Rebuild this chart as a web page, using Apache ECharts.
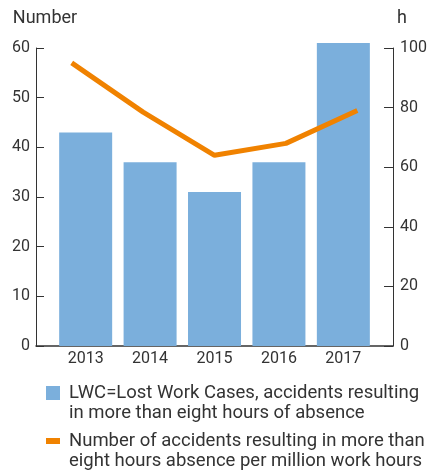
<!DOCTYPE html>
<html>
<head>
<meta charset="utf-8">
<script src="https://cdn.jsdelivr.net/npm/echarts@6/dist/echarts.min.js"></script>
<style>
  html, body { margin: 0; padding: 0; background: #fff; }
  #chart { width: 430px; height: 470px; }
</style>
</head>
<body>
<div id="chart"></div>
<script>
// data
var years = [2013, 2014, 2015, 2016, 2017]
var yearLabels = ['2013', '2014', '2015', '2016', '2017']
var lwcCases = [43, 37, 31, 37, 61]
var accidentsPerMillion = [95, 78.5, 64, 68, 79]
var leftTicks = { min: 0, max: 60, interval: 10 }
var rightTicks = { min: 0, max: 100, interval: 20 }

var barName = 'LWC=Lost Work Cases, accidents resulting\nin more than eight hours of absence'
var lineName = 'Number of accidents resulting in more than\neight hours absence per million work hours'

var textColor = '#333'
var blue = '#7bafdc'
var orange = '#f08200'
var font = 'Roboto'

var chart = echarts.init(document.getElementById('chart'), null, { renderer: 'canvas' })

// legend text is centred on the icon, so an empty first line puts the
// first real line level with the icon
function legendLabel(name) {
  return '\n' + name.split('\n').map(function (l) { return '{t|' + l + '}' }).join('\n')
}

var legendText = {
  color: textColor,
  fontFamily: font,
  fontSize: 18.5,
  lineHeight: 20,
  rich: {
    t: { color: textColor, fontFamily: font, fontSize: 18.5, lineHeight: 20, padding: [0, 0, 0, 4] }
  }
}

var option = {
  animation: false,
  grid: { left: 36, right: 31, top: 48, bottom: 124 },
  legend: [
    {
      data: [{ name: barName, icon: 'rect' }],
      left: 46, top: 363, padding: 0,
      itemWidth: 14, itemHeight: 14,
      selectedMode: false,
      formatter: legendLabel,
      textStyle: legendText
    },
    {
      data: [{ name: lineName, icon: 'rect' }],
      left: 46, top: 411, padding: 0,
      itemWidth: 14, itemHeight: 6,
      selectedMode: false,
      formatter: legendLabel,
      textStyle: legendText
    }
  ],
  xAxis: [
    {
      // bars sit on a slightly narrower spacing than the line
      type: 'value',
      min: 2012.229,
      max: 2017.771,
      axisLine: { show: true, onZero: false, lineStyle: { color: textColor, width: 1.5 } },
      axisTick: { show: false },
      splitLine: { show: false },
      axisLabel: {
        customValues: years,
        formatter: function (v) { return yearLabels[years.indexOf(v)] },
        color: textColor, fontFamily: font, fontSize: 16, margin: 5
      }
    },
    {
      type: 'category',
      data: yearLabels,
      show: false
    }
  ],
  yAxis: [
    {
      type: 'value',
      min: leftTicks.min, max: leftTicks.max, interval: leftTicks.interval,
      name: 'Number',
      nameLocation: 'end',
      nameGap: 21,
      nameTextStyle: { color: textColor, fontFamily: font, fontSize: 18, align: 'center', padding: [0, 0, 0, 18] },
      axisLine: { show: true, lineStyle: { color: textColor, width: 1 } },
      axisTick: { show: true, inside: true, length: 8, lineStyle: { color: textColor } },
      splitLine: { show: false },
      axisLabel: { color: textColor, fontFamily: font, fontSize: 16, margin: 6 }
    },
    {
      type: 'value',
      position: 'right',
      min: rightTicks.min, max: rightTicks.max, interval: rightTicks.interval,
      name: 'h',
      nameLocation: 'end',
      nameGap: 21,
      nameTextStyle: { color: textColor, fontFamily: font, fontSize: 18, align: 'center', padding: [0, 0, 0, 18] },
      axisLine: { show: true, lineStyle: { color: textColor, width: 1 } },
      axisTick: { show: true, inside: true, length: 9, lineStyle: { color: textColor } },
      splitLine: { show: false },
      axisLabel: { color: textColor, fontFamily: font, fontSize: 16, margin: 7 }
    }
  ],
  series: [
    {
      name: barName,
      type: 'bar',
      xAxisIndex: 0,
      yAxisIndex: 0,
      clip: false,
      barWidth: 53,
      itemStyle: { color: blue },
      data: years.map(function (y, i) { return [y, lwcCases[i]] })
    },
    {
      name: lineName,
      type: 'line',
      xAxisIndex: 1,
      yAxisIndex: 1,
      symbol: 'none',
      z: 3,
      lineStyle: { color: orange, width: 5 },
      itemStyle: { color: orange },
      data: accidentsPerMillion
    }
  ]
}

chart.setOption(option)
</script>
</body>
</html>
